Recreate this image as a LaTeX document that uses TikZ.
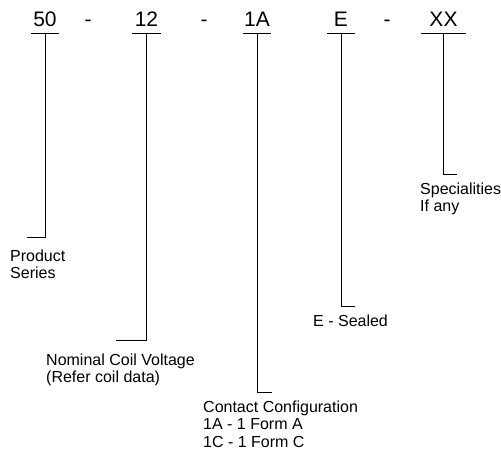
\documentclass[tikz,border=0pt]{standalone}
\usepackage{fontspec}
\setmainfont{Liberation Sans}
\tikzset{
    code/.style={anchor=base,inner xsep=0pt,inner ysep=0pt,text depth=6pt,minimum width=28pt,font=\fontsize{21}{25}\selectfont},
    sep/.style={anchor=base,inner sep=0pt,font=\fontsize{21}{25}\selectfont},
    desc/.style={anchor=base west,inner sep=0pt,align=left,font=\fontsize{16}{17.5}\selectfont},
    lead/.style={line width=0.8pt}
}
\begin{document}
\begin{tikzpicture}[x=1pt,y=-1pt]
    \useasboundingbox (0,0) rectangle (501,455);%fix the page size
    \node[code] (c50) at (45,27) {50};
    \node[sep] (s1) at (88,27) {-};
    \node[code] (c12) at (146.5,27) {12};
    \node[sep] (s2) at (204,27) {-};
    \node[code] (c1A) at (257,27) {1A};
    \node[code] (cE) at (341,27) {E};
    \node[sep] (s3) at (387,27) {-};
    \node[code,minimum width=45pt] (cXX) at (443.5,27) {XX};
    \foreach \c in {c50,c12,c1A,cE,cXX}
        \draw[lead] (\c.south west) -- (\c.south east);%underline of each code
    \node[desc] (d50) at (10,278.5) {Product\\Series};%base = last line
    \node[desc] (d12) at (46,382.5) {Nominal Coil Voltage\\(Refer coil data)};
    \node[desc] (d1A) at (203,447) {Contact Configuration\\1A - 1 Form A\\1C - 1 Form C};
    \node[desc] (dE) at (313,326) {E - Sealed};
    \node[desc] (dXX) at (420,211.5) {Specialities\\If any};
    \coordinate (e50) at (27,237);
    \coordinate (e12) at (116,340);
    \coordinate (e1A) at (272,392);
    \coordinate (eE) at (355,306);
    \coordinate (eXX) at (457,174);
    \foreach \c in {50,12,1A,E,XX}
        \draw[lead] (c\c.south) |- (e\c);%leader down to the text
\end{tikzpicture}
\end{document}
